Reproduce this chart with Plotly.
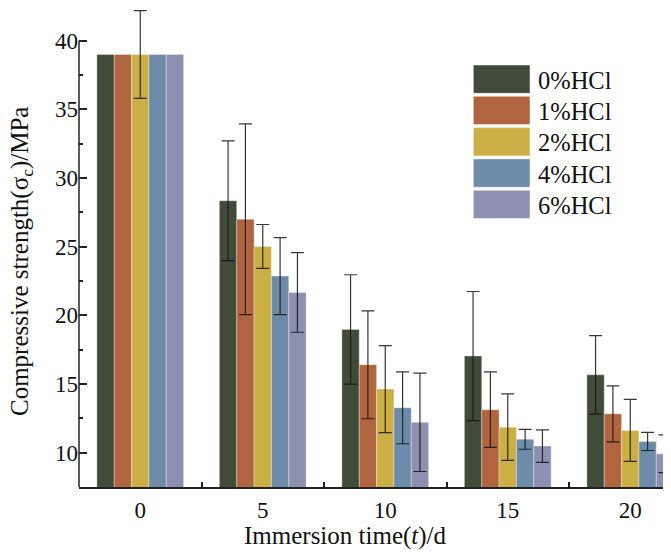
import numpy as np
import plotly.graph_objects as go

# ---------------- data ----------------
days = [0, 5, 10, 15, 20]
series_names = ["0%HCl", "1%HCl", "2%HCl", "4%HCl", "6%HCl"]
colors = ["#414B3A", "#B0643F", "#CBAF44", "#6E8BAA", "#8D90B0"]

s0 = [39.0, 28.35, 18.98, 17.04, 15.67]
s1 = [39.0, 27.0, 16.4, 13.13, 12.83]
s2 = [39.0, 25.02, 14.63, 11.86, 11.62]
s4 = [39.0, 22.86, 13.27, 10.97, 10.82]
s6 = [39.0, 21.67, 12.21, 10.48, 9.92]

e0 = [np.nan, 4.36, 3.98, 4.70, 2.86]
e1 = [np.nan, 6.95, 3.93, 2.75, 2.04]
e2 = [3.20, 1.60, 3.17, 2.42, 2.26]
e4 = [np.nan, 2.80, 2.62, 0.72, 0.66]
e6 = [np.nan, 2.90, 3.58, 1.18, 1.38]

values = [s0, s1, s2, s4, s6]
errors = [e0, e1, e2, e4, e6]

y_ticks = [10, 15, 20, 25, 30, 35, 40]
y_minor = [12.5, 17.5, 22.5, 27.5, 32.5, 37.5]
x_minor = [2.5, 7.5, 12.5, 17.5]

# ---------------- layout constants ----------------
OFF = 8  # default page body margin
W, H = 671 - OFF, 554 - OFF
ML, MR, MT, MB = 79 - OFF, 0, 0, 67
PW, PH = W - ML - MR, H - MT - MB
X_PX_PER_UNIT = 24.5
Y_PX_PER_UNIT = 13.73
FONT = "Liberation Serif, Times New Roman, serif"


def px_x(px):  # page pixel -> paper
    return (px - OFF - ML) / PW


def px_y(py):
    return (H - MB - (py - OFF)) / PH


fig = go.Figure()
for name, col, vals, errs in zip(series_names, colors, values, errors):
    fig.add_trace(go.Bar(
        x=days, y=vals, name=name,
        marker=dict(color=col, line=dict(color="rgba(255,255,255,0.55)", width=0.6)),
        error_y=dict(type="data", array=np.array(errs, dtype=float), visible=True,
                     color="rgba(20,20,20,0.85)", thickness=1.2, width=6.5),
        showlegend=False,
    ))

# y-axis line only up to 40
shapes = [dict(type="line", xref="paper", yref="y", x0=0, x1=0, y0=7.5, y1=40,
               line=dict(color="#222222", width=1.5), layer="below")]
annotations = []

# manual legend (page pixel positions)
leg_top = 65.0
pitch = 31.3
box_h = 28.3
box_x0, box_x1 = 473.3, 530.0
text_x = 536.0
for i, (name, col) in enumerate(zip(series_names, colors)):
    y0 = leg_top + i * pitch
    y1 = y0 + box_h
    shapes.append(dict(type="rect", xref="paper", yref="paper",
                       x0=px_x(box_x0), x1=px_x(box_x1), y0=px_y(y1), y1=px_y(y0),
                       fillcolor=col, line=dict(color="rgba(255,255,255,0.6)", width=0.8),
                       layer="above"))
    annotations.append(dict(xref="paper", yref="paper", x=px_x(text_x), y=px_y((y0 + y1) / 2 + 1),
                            text=name, showarrow=False, xanchor="left", yanchor="middle",
                            font=dict(family=FONT, size=24.5, color="#111111")))

# axis titles
annotations.append(dict(xref="paper", yref="paper", x=px_x(345), y=px_y(536),
                        text="Immersion time(<i>t</i>)/d", showarrow=False,
                        xanchor="center", yanchor="middle",
                        font=dict(family=FONT, size=25, color="#111111")))
annotations.append(dict(xref="paper", yref="paper", x=px_x(21), y=px_y(262),
                        text="Compressive strength(σ<sub>c</sub>)/MPa", showarrow=False,
                        textangle=-90, xanchor="center", yanchor="middle",
                        font=dict(family=FONT, size=25, color="#111111")))

fig.update_layout(
    width=W, height=H, autosize=False,
    margin=dict(l=ML, r=MR, t=MT, b=MB, pad=0, autoexpand=False),
    paper_bgcolor="white", plot_bgcolor="white",
    barmode="group", bargap=0.292, bargroupgap=0,
    font=dict(family=FONT, size=23, color="#111111"),
    shapes=shapes, annotations=annotations,
    xaxis=dict(range=[-2.5, -2.5 + PW / X_PX_PER_UNIT], tickmode="array", tickvals=days,
               ticktext=[str(d) for d in days],
               showline=True, linecolor="#222222", linewidth=1.5, mirror=False,
               ticks="inside", ticklen=8, tickwidth=1.5, tickcolor="#222222",
               minor=dict(tickmode="array", tickvals=x_minor, ticks="inside", ticklen=5,
                          tickwidth=1.5, tickcolor="#222222"),
               showgrid=False, zeroline=False, layer="below traces", automargin=False,
               ticklabelstandoff=2,
               tickfont=dict(family=FONT, size=23, color="#111111")),
    yaxis=dict(range=[7.5, 7.5 + PH / Y_PX_PER_UNIT], tickmode="array", tickvals=y_ticks,
               showline=False, ticksuffix="\u2009",
               ticks="inside", ticklen=8, tickwidth=1.5, tickcolor="#222222",
               minor=dict(tickmode="array", tickvals=y_minor, ticks="inside", ticklen=4,
                          tickwidth=1.5, tickcolor="#222222"),
               showgrid=False, zeroline=False, layer="below traces", automargin=False,
               tickfont=dict(family=FONT, size=23, color="#111111")),
)

fig.write_html("out.html")
